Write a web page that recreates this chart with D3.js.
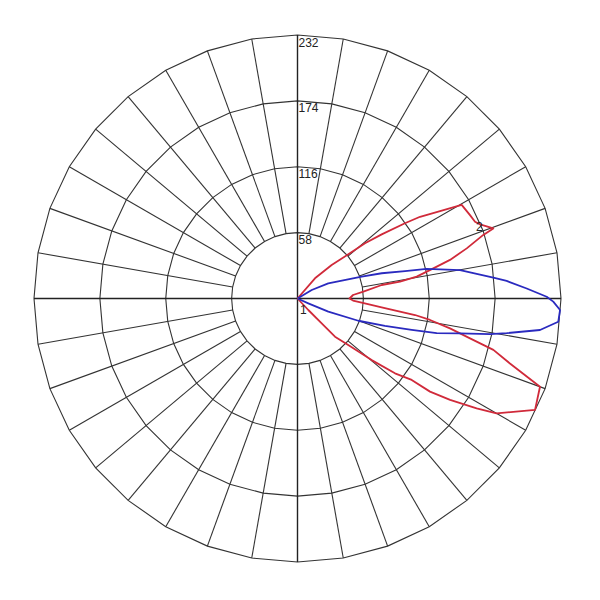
<!DOCTYPE html>
<html>
<head>
<meta charset="utf-8">
<script src="https://cdn.jsdelivr.net/npm/d3@7"></script>
<style>
  html, body { margin: 0; padding: 0; background: #fff; }
  svg { display: block; }
</style>
</head>
<body>
<svg id="chart" width="600" height="600"></svg>
<script>
// ---- data ----
// ring values (tick labels)
const ringValues = [58, 116, 174, 232];
const ringLabels = ["58", "116", "174", "232"];
// spoke angles in degrees (counter-clockwise from the right-hand horizontal)
const spokeAngles = d3.range(0, 360, 10);

// curve 1 (blue): angle (deg), value
const curve1Angles = [30.9, 30.9, 26.3, 18.8, 16.7, 14.3, 12.9, 9.9, 6.1, 4.8, 2.5, 0.4, -0.7, -2.5, -5.1, -7.4, -9.4, -10.5, -12.1, -14.0, -15.4, -17.4, -20.1, -23.2, -24.0, -24.0];
const curve1Values = [0, 14.6, 30.2, 59.7, 77.4, 97.7, 116.7, 145.3, 173.4, 184.8, 202.0, 219.4, 225.2, 231.4, 230.5, 215.3, 186.7, 172.4, 146.3, 126.3, 104.3, 80.7, 57.0, 29.5, 10.4, 0];

// curve 2 (red): angle (deg), value
const curve2Angles = [49.1, 49.1, 44.4, 41.0, 39.3, 37.3, 35.0, 33.7, 31.5, 29.7, 25.8, 23.4, 22.1, 19.7, 18.9, 16.5, 14.2, 12.5, 10.4, 9.3, 9.1, 5.9, 3.6, 0, -2.1, -3.7, -6.0, -8.0, -9.2, -11.1, -13.0, -14.7, -17.0, -20.0, -25.1, -27.7, -30.0, -31.5, -33.6, -35.1, -35.5, -37.5, -39.7, -42.5, -45.5, -45.7, -46.8, -46.8];
const curve2Values = [0, 23.5, 42.1, 59.3, 76.8, 93.2, 115.5, 129.7, 147.2, 166.4, 168.7, 170.3, 173.5, 183.1, 172.9, 155.4, 138.5, 122.5, 106.7, 91.5, 75.1, 58.3, 49.0, 45.8, 48.9, 56.6, 74.5, 104.5, 118.2, 136.8, 155.9, 178.3, 195.6, 227.2, 231.0, 214.6, 202.4, 185.0, 161.3, 142.6, 123.5, 108.2, 84.9, 60.6, 47.1, 30.5, 13.9, 0];

// curve labels: name, angle (deg), value
const curveLabelNames = ["1", "2"];
const curveLabelAngles = [-62, 21.5];
const curveLabelValues = [11, 172];

// ---- drawing ----
const cx = 297.5, cy = 298.5, R = 263.5;
const svg = d3.select("#chart");
const g = svg.append("g").attr("transform", `translate(${cx},${cy})`);

const r = d3.scaleLinear().domain([0, 232]).range([0, R]);
const toRad = d => (90 - d) * Math.PI / 180; // d3 radial convention
const px = (deg, v) => r(v) * Math.cos(deg * Math.PI / 180);
const py = (deg, v) => -r(v) * Math.sin(deg * Math.PI / 180);

const gridColor = "#333";
const inner = ringValues[0];
const outer = ringValues[ringValues.length - 1];

// rings (polygonal, through the spoke points)
const ringLine = d3.lineRadial().curve(d3.curveLinearClosed)
  .angle(d => toRad(d[0])).radius(d => r(d[1]));
g.selectAll("path.ring").data(ringValues).join("path")
  .attr("class", "ring")
  .attr("d", v => ringLine(spokeAngles.map(a => [a, v])))
  .attr("fill", "none")
  .attr("stroke", gridColor)
  .attr("stroke-width", 1.1);

// spokes (from inner ring to outer ring); main axes through the centre
const mainAxes = spokeAngles.filter(a => a % 90 === 0);
const spokes = spokeAngles.filter(a => a % 90 !== 0);
g.selectAll("line.spoke").data(spokes).join("line")
  .attr("class", "spoke")
  .attr("x1", a => px(a, inner)).attr("y1", a => py(a, inner))
  .attr("x2", a => px(a, outer)).attr("y2", a => py(a, outer))
  .attr("stroke", gridColor).attr("stroke-width", 1.1);
g.selectAll("line.axis").data(mainAxes).join("line")
  .attr("class", "axis")
  .attr("x1", 0).attr("y1", 0)
  .attr("x2", a => px(a, outer)).attr("y2", a => py(a, outer))
  .attr("stroke", "#222").attr("stroke-width", 1.4);

// ring labels
g.selectAll("text.ringlab").data(ringValues).join("text")
  .attr("class", "ringlab")
  .attr("x", 1)
  .attr("y", v => -r(v) + 11.5)
  .text((v, i) => ringLabels[i])
  .attr("font-family", "Liberation Sans, Arial, sans-serif")
  .attr("font-size", 12)
  .attr("fill", "#222");

// curves
const curveLine = d3.lineRadial()
  .angle(d => toRad(d[0])).radius(d => r(d[1]));
const c1 = curve1Angles.map((a, i) => [a, curve1Values[i]]);
const c2 = curve2Angles.map((a, i) => [a, curve2Values[i]]);
g.append("path").attr("d", curveLine(c2))
  .attr("fill", "none").attr("stroke", "#d02a3a").attr("stroke-width", 1.8)
  .attr("stroke-linejoin", "round");
g.append("path").attr("d", curveLine(c1))
  .attr("fill", "none").attr("stroke", "#2a2abf").attr("stroke-width", 1.8)
  .attr("stroke-linejoin", "round");

// curve labels
g.selectAll("text.curvelab").data(curveLabelNames).join("text")
  .attr("class", "curvelab")
  .attr("x", (d, i) => px(curveLabelAngles[i], curveLabelValues[i]))
  .attr("y", (d, i) => py(curveLabelAngles[i], curveLabelValues[i]))
  .attr("text-anchor", "middle")
  .attr("dominant-baseline", "central")
  .text(d => d)
  .attr("font-family", "Liberation Sans, Arial, sans-serif")
  .attr("font-size", 12)
  .attr("fill", "#222");
</script>
</body>
</html>
